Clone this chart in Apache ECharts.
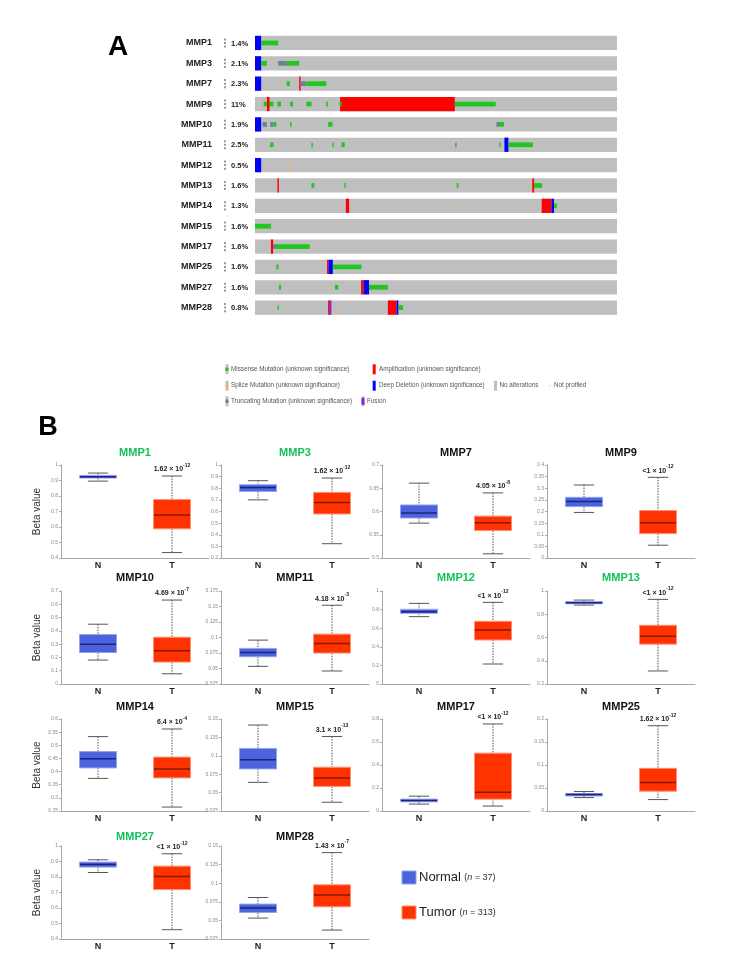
<!DOCTYPE html>
<html><head><meta charset="utf-8">
<script src="https://cdn.jsdelivr.net/npm/echarts@6/dist/echarts.min.js"></script>
<style>html,body{margin:0;padding:0;background:#fff}#c{width:730px;height:979px}</style>
</head><body><div id="c"></div><script>
// ---------- Panel A data ----------
const genes = ['MMP1','MMP3','MMP7','MMP9','MMP10','MMP11','MMP12','MMP13','MMP14','MMP15','MMP17','MMP25','MMP27','MMP28'];
const alterPct = [1.4,2.1,2.3,11,1.9,2.5,0.5,1.6,1.3,1.6,1.6,1.6,1.6,0.8];
// [gene index, start (% of samples), end (% of samples), alteration type]
const alterations = [
 [0,0,1.7,'del'],[0,1.7,6.4,'mis'],
 [1,0,1.7,'del'],[1,1.7,3.3,'mis'],[1,6.4,8.8,'trunc'],[1,8.8,12.2,'mis'],
 [2,0,1.7,'del'],[2,8.8,9.6,'mis'],[2,12.2,12.6,'amp'],[2,12.6,14.2,'trunc'],[2,14.2,19.7,'mis'],
 [3,2.0,2.4,'splice'],[3,2.4,5.1,'mis'],[3,3.3,4.0,'amp'],[3,6.2,7.2,'mis'],[3,9.7,10.5,'mis'],[3,14.2,15.6,'mis'],[3,19.6,20.1,'mis'],[3,23.5,55.2,'amp'],[3,23.3,23.9,'mis'],[3,55.2,66.5,'mis'],
 [4,0,1.7,'del'],[4,2.1,3.3,'trunc'],[4,4.2,5.1,'trunc'],[4,5.1,5.9,'mis'],[4,9.7,10.1,'mis'],[4,20.2,21.4,'mis'],[4,66.7,67.4,'trunc'],[4,67.4,68.8,'mis'],
 [5,4.2,5.1,'mis'],[5,15.6,15.9,'mis'],[5,21.4,21.8,'mis'],[5,23.9,24.8,'mis'],[5,55.3,55.7,'trunc'],[5,67.5,67.9,'mis'],[5,68.9,70.0,'del'],[5,70.0,76.8,'mis'],
 [6,0,1.7,'del'],[6,9.2,9.7,'splice'],
 [7,6.2,6.6,'amp'],[7,15.6,16.4,'mis'],[7,24.7,25.1,'mis'],[7,55.7,56.2,'mis'],[7,76.6,77.1,'amp'],[7,77.1,79.3,'mis'],
 [8,25.1,26.0,'amp'],[8,56.2,56.6,'splice'],[8,79.2,81.9,'amp'],[8,81.9,82.6,'del'],[8,82.6,83.4,'mis'],
 [9,0,4.4,'mis'],
 [10,4.4,5.0,'amp'],[10,5.0,5.8,'trunc'],[10,5.8,15.1,'mis'],
 [11,5.9,6.5,'mis'],[11,19.9,20.3,'amp'],[11,20.3,21.5,'del'],[11,21.5,29.4,'mis'],
 [12,6.6,7.2,'mis'],[12,22.1,23.0,'mis'],[12,29.3,30.0,'amp'],[12,30.0,31.5,'del'],[12,31.5,36.7,'mis'],
 [13,6.2,6.5,'mis'],[13,20.2,20.5,'amp'],[13,20.5,21.1,'fusion'],[13,22.9,23.3,'splice'],[13,36.7,39.1,'amp'],[13,39.1,39.6,'del'],[13,39.6,40.9,'mis']
];
const altTypes = ['mis','splice','trunc','amp','del','fusion'];
const legendA = [
 ['mis','Missense Mutation (unknown significance)'],
 ['splice','Splice Mutation (unknown significance)'],
 ['trunc','Truncating Mutation (unknown significance)'],
 ['amp','Amplification (unknown significance)'],
 ['del','Deep Deletion (unknown significance)'],
 ['fusion','Fusion'],
 ['none','No alterations'],
 ['np','Not profiled']
];

// ---------- Panel B data ----------
const boxGenes = ['MMP1','MMP3','MMP7','MMP9','MMP10','MMP11','MMP12','MMP13','MMP14','MMP15','MMP17','MMP25','MMP27','MMP28'];
const greenTitles = ['MMP1','MMP3','MMP12','MMP13','MMP27'];
const groups = ['N','T'];
// [lower whisker, Q1, median, Q3, upper whisker]
const normalBox = [
 [0.896,0.916,0.924,0.933,0.948],
 [0.700,0.773,0.807,0.830,0.865],
 [0.575,0.586,0.597,0.614,0.661],
 [0.196,0.221,0.243,0.261,0.314],
 [0.180,0.237,0.300,0.372,0.450],
 [0.0535,0.069,0.076,0.0824,0.0958],
 [0.724,0.760,0.778,0.803,0.867],
 [0.879,0.890,0.899,0.908,0.922],
 [0.374,0.414,0.449,0.476,0.533],
 [0.0639,0.0822,0.0946,0.110,0.1418],
 [0.060,0.080,0.091,0.103,0.129],
 [0.0292,0.0328,0.0358,0.0380,0.0423],
 [0.829,0.864,0.881,0.896,0.911],
 [0.0531,0.0607,0.0665,0.0719,0.0808]
];
const tumorBox = [
 [0.435,0.588,0.677,0.777,0.929],
 [0.323,0.579,0.678,0.764,0.888],
 [0.509,0.559,0.576,0.590,0.640],
 [0.055,0.105,0.152,0.204,0.347],
 [0.077,0.165,0.250,0.352,0.632],
 [0.0460,0.0749,0.0904,0.1054,0.152],
 [0.215,0.473,0.581,0.674,0.878],
 [0.312,0.543,0.610,0.705,0.928],
 [0.265,0.376,0.410,0.455,0.562],
 [0.0369,0.0584,0.0699,0.0845,0.1262],
 [0.043,0.103,0.163,0.503,0.757],
 [0.0248,0.0431,0.062,0.0927,0.1854],
 [0.460,0.719,0.803,0.870,0.950],
 [0.037,0.0683,0.084,0.0978,0.1411]
];
const pBase = ['1.62','1.62','4.05','<1','4.69','4.18','<1','<1','6.4','3.1','<1','1.62','<1','1.43'];
const pExp  = ['-12','-12','-8','-12','-7','-3','-12','-12','-4','-13','-12','-12','-12','-7'];
const yMin  = [0.4,0.2,0.5,0,0,0.025,0,0.2,0.25,0.025,0,0,0.4,0.025];
const yMax  = [1,1,0.7,0.4,0.7,0.175,1,1,0.6,0.15,0.8,0.2,1,0.15];
const yStep = [0.1,0.1,0.05,0.05,0.1,0.025,0.2,0.2,0.05,0.025,0.2,0.05,0.1,0.025];
const legendB = [['Normal','37'],['Tumor','313']];

// ---------- styles / layout ----------
const ALT_COLOR = {mis:'#1ec81e', splice:'#f2b37a', trunc:'#6f8096', amp:'#ff0000', del:'#0000ff', fusion:'#9a1ad0', none:'#bfbfbf', np:'#e6e6e6'};
const FULL = {amp:1, del:1, fusion:1};
const NCOL = {fill:'#4b63dc', border:'#93a2ef', med:'#1a2380'};
const TCOL = {fill:'#ff3300', border:'#ff8f75', med:'#8a1800'};
const colX = [61,221,382,547];
const rowTop = [465,591,719,846];
const rowH = [93,93,92,93];
const titleY = [453,578,707,837];
const FONT = 'Liberation Sans, Arial, sans-serif';

const chart = echarts.init(document.getElementById('c'));

const grids = [{left:255, top:32.8, width:362, height:285}];
const xAxes = [{gridIndex:0, type:'value', min:0, max:100, show:false}];
const yAxes = [{gridIndex:0, type:'category', data:genes, inverse:true,
  axisLine:{show:false}, axisTick:{show:false},
  axisLabel:{margin:43, fontSize:9, fontWeight:'bold', color:'#222', fontFamily:FONT}}];

const series = [];
// background bars + pct labels
series.push({
  type:'custom', xAxisIndex:0, yAxisIndex:0, silent:true,
  data: genes.map((g,i)=>[0,100,i]),
  encode:{x:[0,1], y:2},
  renderItem(params, api){
    const i = api.value(2);
    const p0 = api.coord([api.value(0), i]);
    const p1 = api.coord([api.value(1), i]);
    const band = api.size([0,1])[1];
    const h = band*0.7;
    const ch = [
      {type:'rect', shape:{x:p0[0], y:p0[1]-h/2, width:p1[0]-p0[0], height:h}, style:{fill:ALT_COLOR.none}},
      {type:'text', x:p0[0]-24, y:p0[1]+0.5, style:{text:alterPct[i]+'%', fill:'#222', align:'left', verticalAlign:'middle', font:'bold 7.5px '+FONT}}
    ];
    for (let k=-1;k<=1;k++) ch.push({type:'rect', shape:{x:p0[0]-31, y:p0[1]+k*3.6-1, width:2, height:2}, style:{fill:'#9a9a9a'}});
    return {type:'group', children:ch};
  }
});
// alterations
series.push({
  type:'custom', xAxisIndex:0, yAxisIndex:0, silent:true,
  data: alterations.map(a=>[a[1],a[2],a[0],altTypes.indexOf(a[3])]),
  encode:{x:[0,1], y:2},
  renderItem(params, api){
    const i = api.value(2);
    const t = altTypes[api.value(3)];
    const p0 = api.coord([api.value(0), i]);
    const p1 = api.coord([api.value(1), i]);
    const band = api.size([0,1])[1];
    const H = band*0.7;
    const h = FULL[t] ? H : H/3;
    const w = Math.max(1.4, p1[0]-p0[0]);
    return {type:'rect', shape:{x:p0[0], y:p0[1]-h/2, width:w, height:h}, style:{fill:ALT_COLOR[t]}};
  }
});

function boxRender(idx){
  return function(params, api){
    const cat = api.value(0);
    const lo=api.value(1), q1=api.value(2), med=api.value(3), q3=api.value(4), hi=api.value(5);
    const c = cat===0 ? NCOL : TCOL;
    const x = api.coord([cat, med])[0];
    const yLo = api.coord([cat, lo])[1], yQ1 = api.coord([cat, q1])[1], yMed = api.coord([cat, med])[1];
    const yQ3 = api.coord([cat, q3])[1], yHi = api.coord([cat, hi])[1];
    const bw = api.size([1,0])[0]*0.5;
    const cw = bw*0.55;
    const ws = {stroke:'#555', lineWidth:1, lineDash:[1.5,1.2]};
    const cs = {stroke:'#555', lineWidth:1};
    const ch = [
      {type:'line', shape:{x1:x, y1:yHi, x2:x, y2:yQ3}, style:ws},
      {type:'line', shape:{x1:x, y1:yQ1, x2:x, y2:yLo}, style:ws},
      {type:'line', shape:{x1:x-cw/2, y1:yHi, x2:x+cw/2, y2:yHi}, style:cs},
      {type:'line', shape:{x1:x-cw/2, y1:yLo, x2:x+cw/2, y2:yLo}, style:cs},
      {type:'rect', shape:{x:x-bw/2, y:yQ3, width:bw, height:yQ1-yQ3}, style:{fill:c.fill, stroke:c.border, lineWidth:1}},
      {type:'line', shape:{x1:x-bw/2+0.5, y1:yMed, x2:x+bw/2-0.5, y2:yMed}, style:{stroke:c.med, lineWidth:1.5}}
    ];
    if (cat===1) {
      ch.push({type:'text', x:x, y:yHi-3, style:{
        text:'{a|'+pBase[idx]+' × 10}{s|'+pExp[idx]+'}', align:'center', verticalAlign:'bottom',
        rich:{a:{font:'bold 7px '+FONT, fill:'#222', verticalAlign:'bottom', lineHeight:10},
              s:{font:'bold 5px '+FONT, fill:'#222', verticalAlign:'top', lineHeight:10}}
      }});
    }
    return {type:'group', children:ch};
  };
}

boxGenes.forEach((g, i)=>{
  const col = i%4, row = Math.floor(i/4);
  const gi = grids.length;
  grids.push({left:colX[col], top:rowTop[row], width:148, height:rowH[row]});
  xAxes.push({gridIndex:gi, type:'category', data:groups, boundaryGap:true,
    axisLine:{lineStyle:{color:'#a8a8a8', width:1}}, axisTick:{show:false},
    axisLabel:{margin:3, fontSize:9, fontWeight:'bold', color:'#222', fontFamily:FONT}});
  const ya = {gridIndex:gi, type:'value', min:yMin[i], max:yMax[i], interval:yStep[i],
    axisLine:{show:true, lineStyle:{color:'#a8a8a8', width:1}},
    axisTick:{show:true, length:2, lineStyle:{color:'#a8a8a8'}},
    splitLine:{show:false},
    axisLabel:{fontSize:5, color:'#888', margin:3, fontFamily:FONT}};
  if (col===0) {
    ya.name = 'Beta value'; ya.nameLocation = 'middle'; ya.nameGap = 19;
    ya.nameTextStyle = {fontSize:10, color:'#333', fontFamily:FONT};
  }
  yAxes.push(ya);
  series.push({type:'custom', xAxisIndex:gi, yAxisIndex:gi, silent:true,
    data:[[0].concat(normalBox[i]), [1].concat(tumorBox[i])],
    encode:{x:0, y:[1,2,3,4,5]},
    renderItem: boxRender(i)});
});

// graphics: panel letters, titles, legends
const graphic = [
  {type:'text', x:118, y:47, style:{text:'A', font:'bold 28px '+FONT, fill:'#000', align:'center', verticalAlign:'middle'}},
  {type:'text', x:48, y:428, style:{text:'B', font:'bold 27px '+FONT, fill:'#000', align:'center', verticalAlign:'middle'}}
];
boxGenes.forEach((g,i)=>{
  const col = i%4, row = Math.floor(i/4);
  graphic.push({type:'text', x:colX[col]+74, y:titleY[row], style:{text:g, font:'bold 11px '+FONT,
    fill: greenTitles.includes(g) ? '#12c25a' : '#111', align:'center', verticalAlign:'middle'}});
});
// Panel A legend
const legPos = {
  mis:[225.5,369.3,231], splice:[225.5,385.7,231], trunc:[225.5,401.3,231],
  amp:[372.7,369.3,379], del:[372.7,385.7,379], fusion:[361.5,401.3,367],
  none:[494,385.7,499.5], np:[548.5,385.7,554]
};
legendA.forEach(([t,label])=>{
  const p = legPos[t];
  if (t==='np') {
    graphic.push({type:'rect', shape:{x:p[0], y:p[1]-0.5, width:2, height:1}, style:{fill:'#d8d8d8'}});
  } else if (FULL[t] && t!=='fusion' || t==='none') {
    graphic.push({type:'rect', shape:{x:p[0], y:p[1]-5, width:3, height:10}, style:{fill:ALT_COLOR[t]}});
  } else {
    graphic.push({type:'rect', shape:{x:p[0], y:p[1]-5, width:3, height:10}, style:{fill:ALT_COLOR.none}});
    const hh = t==='fusion' ? 7 : 3.4;
    graphic.push({type:'rect', shape:{x:p[0], y:p[1]-hh/2, width:3, height:hh}, style:{fill:ALT_COLOR[t]}});
  }
  graphic.push({type:'text', x:p[2], y:p[1], style:{text:label, font:'6.3px "Liberation Sans Narrow", '+FONT, fill:'#555', align:'left', verticalAlign:'middle'}});
});
// Panel B legend
legendB.forEach(([name,n],k)=>{
  const y = k===0 ? 877.5 : 912.5;
  const c = k===0 ? NCOL : TCOL;
  graphic.push({type:'rect', shape:{x:402, y:y-6.5, width:14, height:13}, style:{fill:c.fill, stroke:c.border, lineWidth:1}});
  graphic.push({type:'text', x:419, y:y, style:{
    text:'{a|'+name+'} {b|(}{i|n}{b| = '+n+')}', align:'left', verticalAlign:'middle',
    rich:{a:{font:'13px '+FONT, fill:'#222'}, b:{font:'9px '+FONT, fill:'#333'}, i:{font:'italic 9px '+FONT, fill:'#333'}}
  }});
});

chart.setOption({
  backgroundColor:'#fff', animation:false,
  grid:grids, xAxis:xAxes, yAxis:yAxes, series:series, graphic:graphic
});
</script></body></html>
